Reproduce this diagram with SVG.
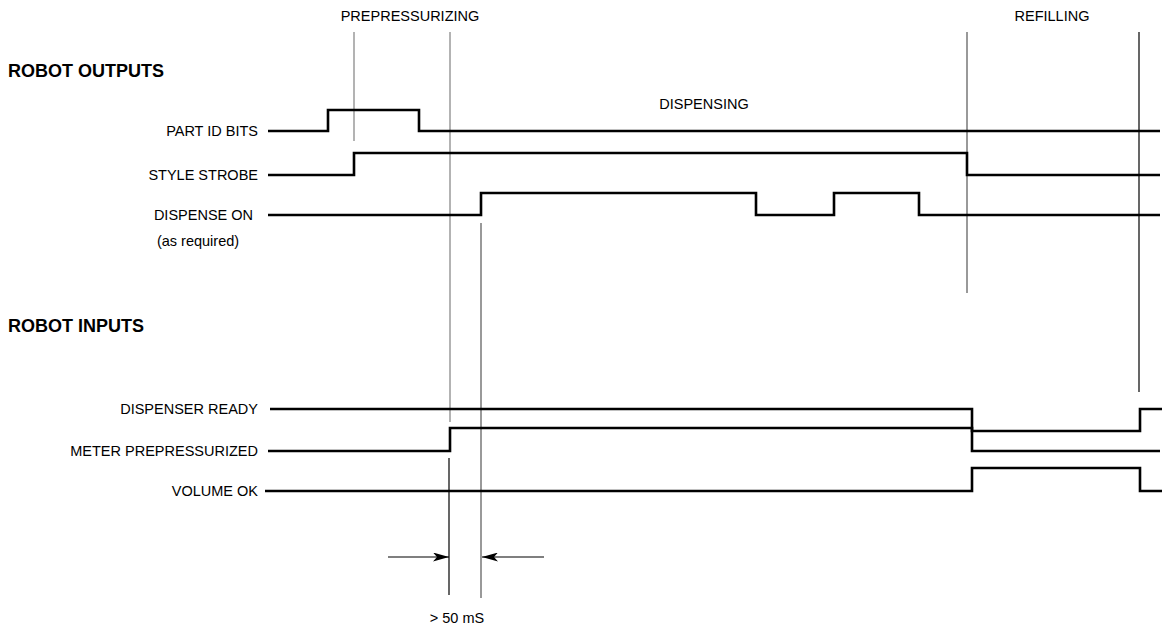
<svg xmlns="http://www.w3.org/2000/svg" width="1162" height="630" viewBox="0 0 1162 630">
  <style>
    .lbl { font-family: "Liberation Sans", Arial, sans-serif; font-size: 14.5px; fill: #000; }
    .hdr { font-family: "Liberation Sans", Arial, sans-serif; font-size: 18px; font-weight: bold; fill: #000; }
    .sig { fill: none; stroke: #000; stroke-width: 2.6; stroke-linejoin: miter; stroke-linecap: butt; }
    .guide { fill: none; stroke: #555; stroke-width: 1.2; }
    .guide-lt { fill: none; stroke: #808080; stroke-width: 1.2; }
    .dim { fill: none; stroke: #000; stroke-width: 1.2; }
    .dim-gray { fill: none; stroke: #555; stroke-width: 1.4; }
  </style>
  <defs>
    <marker id="arrow" viewBox="0 0 16 9" refX="16" refY="4.5" markerWidth="16" markerHeight="9" markerUnits="userSpaceOnUse" orient="auto">
      <path d="M0,0 L16,4.5 L0,9 L4,4.5 Z" fill="#000"/>
    </marker>
  </defs>
  <rect width="1162" height="630" fill="#fff"/>

  <!-- phase headings -->
  <g id="phase-labels">
    <text class="lbl" x="410" y="21" text-anchor="middle">PREPRESSURIZING</text>
    <text class="lbl" x="1052" y="21" text-anchor="middle">REFILLING</text>
    <text class="lbl" x="704" y="109" text-anchor="middle">DISPENSING</text>
  </g>

  <g id="section-titles">
    <text class="hdr" x="8" y="77">ROBOT OUTPUTS</text>
    <text class="hdr" x="8" y="332">ROBOT INPUTS</text>
  </g>

  <!-- timing guide lines and the 50 mS dimension -->
  <g id="connectors">
    <line class="guide-lt" x1="354" y1="32" x2="354" y2="141"/>
    <line class="guide-lt" x1="450" y1="32" x2="450" y2="422"/>
    <line class="guide" x1="481" y1="223" x2="481" y2="598"/>
    <line class="dim" x1="449" y1="458" x2="449" y2="595"/>
    <line class="guide" x1="967" y1="32" x2="967" y2="293"/>
    <line class="dim" x1="1139" y1="32" x2="1139" y2="392"/>
    <line class="dim" x1="388" y1="557" x2="449" y2="557" marker-end="url(#arrow)"/>
    <line class="dim-gray" x1="544" y1="557" x2="482" y2="557" marker-end="url(#arrow)"/>
  </g>

  <g id="part-id-bits">
    <text class="lbl" x="258" y="136" text-anchor="end">PART ID BITS</text>
    <path class="sig" d="M268,131 H328 V110 H419 V131 H1160"/>
  </g>
  <g id="style-strobe">
    <text class="lbl" x="258" y="180" text-anchor="end">STYLE STROBE</text>
    <path class="sig" d="M268,175 H354 V153 H967 V175 H1160"/>
  </g>
  <g id="dispense-on">
    <text class="lbl" x="253" y="220" text-anchor="end">DISPENSE ON</text>
    <text class="lbl" x="198" y="246" text-anchor="middle">(as required)</text>
    <path class="sig" d="M268,215 H481 V193 H756 V215 H834 V193 H919 V215 H1160"/>
  </g>
  <g id="dispenser-ready">
    <text class="lbl" x="258" y="414" text-anchor="end">DISPENSER READY</text>
    <path class="sig" d="M270,409 H972 V431 H1140 V409 H1162"/>
  </g>
  <g id="meter-prepressurized">
    <text class="lbl" x="258" y="456" text-anchor="end">METER PREPRESSURIZED</text>
    <path class="sig" d="M268,451 H450 V428 H972 V451 H1160"/>
  </g>
  <g id="volume-ok">
    <text class="lbl" x="258" y="496" text-anchor="end">VOLUME OK</text>
    <path class="sig" d="M265,491 H972 V468 H1140 V491 H1162"/>
  </g>

  <g id="timing-note">
    <text class="lbl" x="457" y="623" text-anchor="middle">&gt; 50 mS</text>
  </g>
</svg>
